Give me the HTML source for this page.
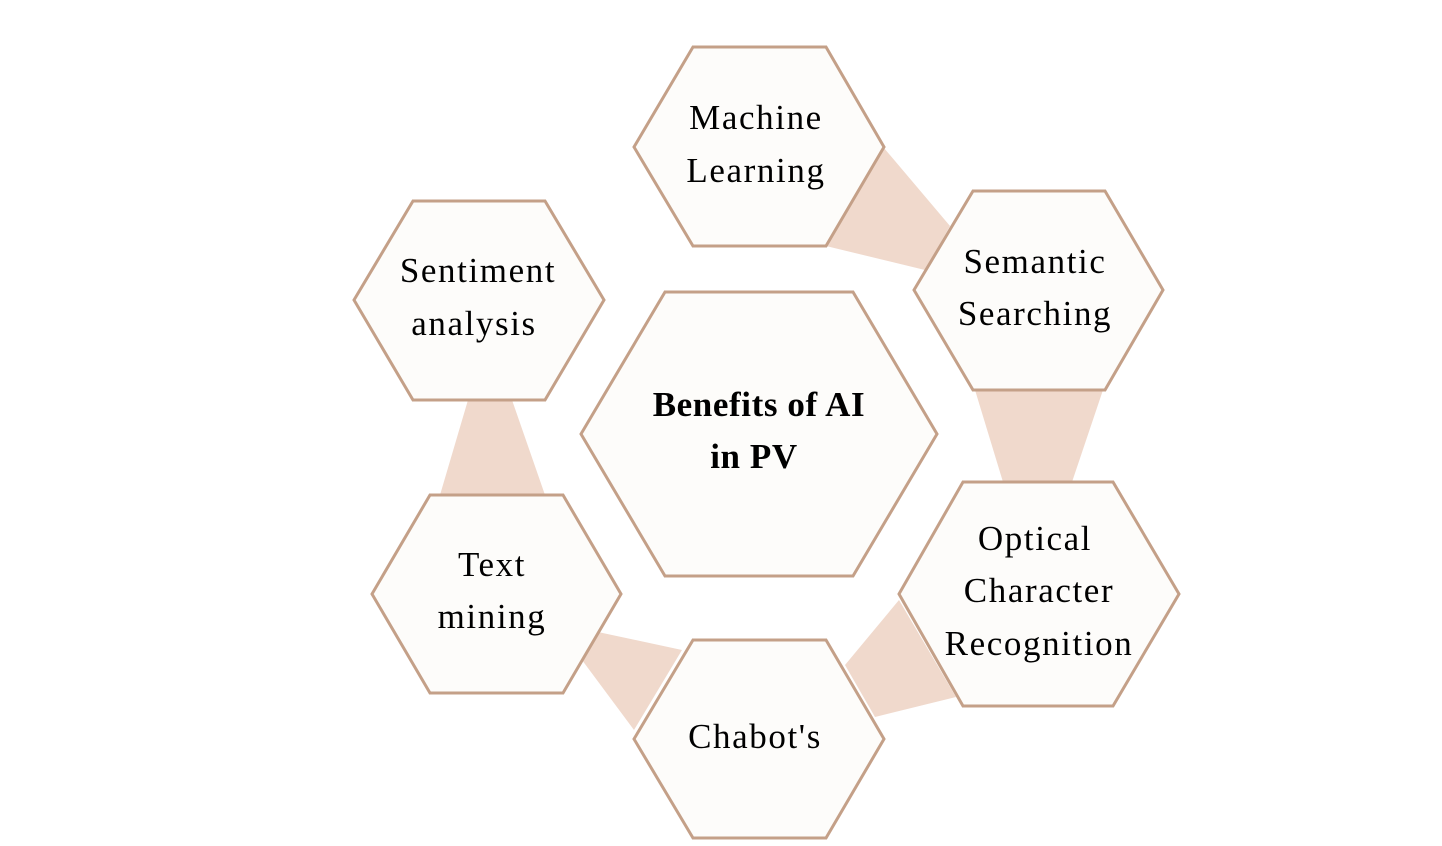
<!DOCTYPE html>
<html><head><style>
html,body{margin:0;padding:0;background:#fff;}
svg{display:block;}
text{font-family:"Liberation Serif",serif;font-size:35px;fill:#000;text-anchor:middle;letter-spacing:1.6px;}
.b{font-weight:bold;font-size:35px;letter-spacing:0.6px;}
.h{fill:#fdfcfa;stroke:#c4a088;stroke-width:3;}
.c{fill:#f0d9cc;}
</style></head><body>
<svg width="1442" height="846" viewBox="0 0 1442 846">
<polygon class="c" points="884,148 950,226 925,270 826,246"/>
<polygon class="c" points="975,390 1103,390 1072,482 1003,482"/>
<polygon class="c" points="899,600 956,697 875,717 845,665"/>
<polygon class="c" points="598,632 682,650 634,730 582,660"/>
<polygon class="c" points="468,400 512,400 545,495 440,495"/>

<polygon class="h" points="634,147 693,47 826,47 884,147 826,246 693,246"/>
<polygon class="h" points="914,290 973,191 1105,191 1163,290 1105,390 973,390"/>
<polygon class="h" points="899,594 963,482 1113,482 1179,594 1113,706 963,706"/>
<polygon class="h" points="634,739 693,640 826,640 884,739 826,838 693,838"/>
<polygon class="h" points="372,594 430,495 563,495 621,594 563,693 430,693"/>
<polygon class="h" points="354,300 413,201 545,201 604,300 545,400 413,400"/>
<polygon class="h" points="581,434 665,292 853,292 937,434 853,576 665,576"/>

<text x="756" y="129">Machine</text>
<text x="756" y="182">Learning</text>
<text x="1035" y="273">Semantic</text>
<text x="1035" y="325">Searching</text>
<text x="1035" y="550">Optical</text>
<text x="1039" y="602">Character</text>
<text x="1039" y="655">Recognition</text>
<text x="755" y="748">Chabot's</text>
<text x="492" y="576">Text</text>
<text x="492" y="628">mining</text>
<text x="478" y="282">Sentiment</text>
<text x="474" y="335">analysis</text>
<text class="b" x="759" y="416">Benefits of AI</text>
<text class="b" x="754" y="468">in PV</text>
</svg>
</body></html>
